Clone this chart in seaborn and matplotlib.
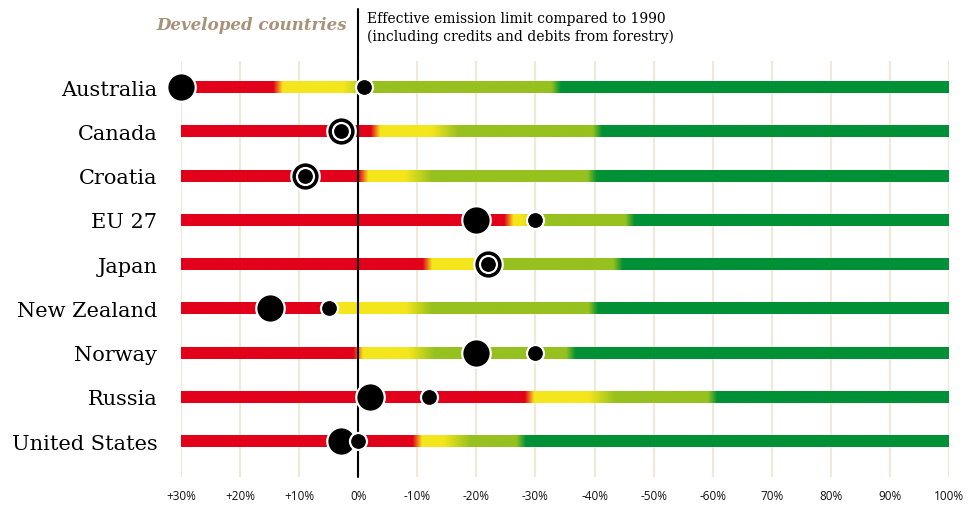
import numpy as np
import pandas as pd
import matplotlib
matplotlib.use("Agg")
import matplotlib.pyplot as plt
from matplotlib.colors import to_rgb
import seaborn as sns

# data: reduction vs 1990 in percent (positive = reduction, negative = increase)
countries = ["Australia", "Canada", "Croatia", "EU 27", "Japan",
             "New Zealand", "Norway", "Russia", "United States"]
# where each colour zone ends along the bar
red_end = [-13.6, 2.9, 0.9, 25.5, 11.7, -5.0, 0.0, 29.0, 10.0]
yellow_end = [0.0, 15.0, 10.5, 30.0, 22.0, 10.5, 11.0, 41.5, 17.0]
lime_end = [33.5, 40.5, 39.6, 46.0, 44.0, 39.8, 36.0, 60.0, 27.6]
# big dots and small dots
big_dot = [-30, -3, -9, 20, 22, -15, 20, 2, -3]
small_dot = [1, -3, -9, 30, 22, -5, 30, 12, 0]

tick_vals = [-30, -20, -10, 0, 10, 20, 30, 40, 50, 60, 70, 80, 90, 100]
tick_labels = ["+30%", "+20%", "+10%", "0%", "-10%", "-20%", "-30%", "-40%",
               "-50%", "-60%", "70%", "80%", "90%", "100%"]

RED = to_rgb("#e2001a")
YELLOW = to_rgb("#f4e61c")
LIME = to_rgb("#96c11f")
GREEN = to_rgb("#009036")

sns.set_theme(style="white")
plt.rcParams["font.family"] = ["DejaVu Serif"]

fig = plt.figure(figsize=(9.69, 5.06), dpi=100)
ax = fig.add_axes([181 / 969, 1 - 478 / 506, 768 / 969, 416 / 506])

xmin, xmax = -30, 100
xs = np.linspace(xmin, xmax, 2601)
bar_h = 0.27

for i, c in enumerate(countries):
    r, y, g = red_end[i], yellow_end[i], lime_end[i]
    knots = [xmin, r - 0.8, r + 0.8, y - 2.5, y + 2.0, g - 0.8, g + 0.8, xmax]
    cols = [RED, RED, YELLOW, YELLOW, LIME, LIME, GREEN, GREEN]
    rgb = np.stack([np.interp(xs, knots, [cc[k] for cc in cols]) for k in range(3)], axis=-1)
    ax.imshow(rgb[np.newaxis, :, :], extent=[xmin, xmax, i + bar_h / 2, i - bar_h / 2],
              aspect="auto", interpolation="bilinear", zorder=2)

df_big = pd.DataFrame({"value": big_dot, "row": np.arange(len(countries))})
df_small = pd.DataFrame({"value": small_dot, "row": np.arange(len(countries))})
sns.scatterplot(data=df_big, x="value", y="row", s=420, color="black",
                edgecolor="white", linewidth=1.6, zorder=4, clip_on=False, ax=ax)
sns.scatterplot(data=df_small, x="value", y="row", s=150, color="black",
                edgecolor="white", linewidth=1.6, zorder=5, clip_on=False, ax=ax)

ax.set_xlim(xmin, xmax)
ax.set_ylim(8.81, -0.588)
ax.set_xticks(tick_vals)
ax.set_xticklabels(tick_labels, family="Open Sans", fontsize=8.5, color="#111111")
ax.set_yticks(range(len(countries)))
ax.set_yticklabels(countries, fontsize=15, color="black")
ax.tick_params(axis="y", length=0, pad=17)
ax.tick_params(axis="x", length=0, pad=9)
ax.set_xlabel("")
ax.set_ylabel("")
ax.grid(axis="x", color="#eeeadb", linewidth=1.6, zorder=0)
ax.grid(axis="y", visible=False)
ax.set_axisbelow(True)
for s in ax.spines.values():
    s.set_visible(False)

ax.axvline(0, ymin=0, ymax=1.125, color="black", linewidth=1.5, zorder=3, clip_on=False)

fig.text(347 / 969, 1 - 25 / 506, "Developed countries", ha="right", va="center",
         fontsize=12, fontweight="bold", fontstyle="italic", color="#a8927a")
fig.text(367 / 969, 1 - 28 / 506,
         "Effective emission limit compared to 1990\n(including credits and debits from forestry)",
         ha="left", va="center", fontsize=10, color="black", linespacing=1.35)

fig.savefig("out.png", dpi=100)
